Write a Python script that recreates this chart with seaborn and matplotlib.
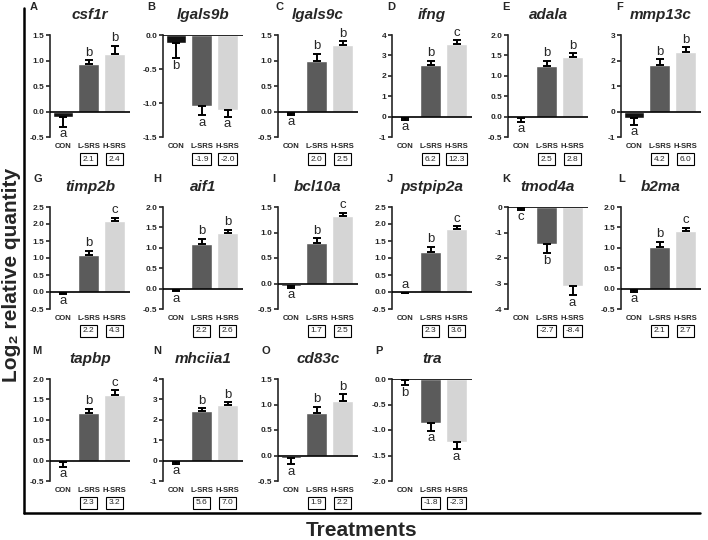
import numpy as np
import pandas as pd
import matplotlib
matplotlib.use("Agg")
import matplotlib.pyplot as plt
import matplotlib.transforms as mtrans
from matplotlib.lines import Line2D
import seaborn as sns

groups = ["CON", "L-SRS", "H-SRS"]
colors = ["#111111", "#5b5b5b", "#d5d5d5"]

genes = ["csf1r", "lgals9b", "lgals9c", "ifng", "adala", "mmp13c",
         "timp2b", "aif1", "bcl10a", "pstpip2a", "tmod4a", "b2ma",
         "tapbp", "mhciia1", "cd83c", "tra"]
panel_ids = list("ABCDEFGHIJKLMNOP")

means = [[-0.10, 0.93, 1.13], [-0.12, -1.05, -1.10], [-0.03, 1.00, 1.31],
         [-0.05, 2.55, 3.55], [-0.03, 1.25, 1.46], [-0.25, 1.83, 2.32],
         [-0.03, 1.10, 2.10], [-0.03, 1.10, 1.36], [-0.05, 0.79, 1.33],
         [-0.02, 1.18, 1.85], [-0.05, -1.45, -3.08], [-0.03, 1.03, 1.40],
         [-0.03, 1.16, 1.62], [-0.05, 2.42, 2.75], [-0.04, 0.83, 1.07],
         [-0.02, -0.86, -1.24]]
errs = [[0.20, 0.08, 0.16], [0.22, 0.13, 0.10], [0.04, 0.13, 0.07],
        [0.12, 0.20, 0.20], [0.10, 0.12, 0.10], [0.27, 0.22, 0.20],
        [0.03, 0.12, 0.08], [0.04, 0.12, 0.08], [0.04, 0.10, 0.06],
        [0.01, 0.15, 0.08], [0.05, 0.37, 0.38], [0.05, 0.12, 0.09],
        [0.12, 0.11, 0.10], [0.12, 0.15, 0.10], [0.13, 0.13, 0.13],
        [0.10, 0.16, 0.14]]
sig = [["a", "b", "b"], ["b", "a", "a"], ["a", "b", "b"], ["a", "b", "c"],
       ["a", "b", "b"], ["a", "b", "b"], ["a", "b", "c"], ["a", "b", "b"],
       ["a", "b", "c"], ["a", "b", "c"], ["c", "b", "a"], ["a", "b", "c"],
       ["a", "b", "c"], ["a", "b", "b"], ["a", "b", "b"], ["b", "a", "a"]]
folds = [["2.1", "2.4"], ["-1.9", "-2.0"], ["2.0", "2.5"], ["6.2", "12.3"],
         ["2.5", "2.8"], ["4.2", "6.0"], ["2.2", "4.3"], ["2.2", "2.6"],
         ["1.7", "2.5"], ["2.3", "3.6"], ["-2.7", "-8.4"], ["2.1", "2.7"],
         ["2.3", "3.2"], ["5.6", "7.0"], ["1.9", "2.2"], ["-1.8", "-2.3"]]
ylims = [(-0.5, 1.5), (-1.5, 0), (-0.5, 1.5), (-1, 4), (-0.5, 2.0), (-1, 3),
         (-0.5, 2.5), (-0.5, 2.0), (-0.5, 1.5), (-0.5, 2.5), (-4, 0), (-0.5, 2.0),
         (-0.5, 2.0), (-1, 4), (-0.5, 1.5), (-2.0, 0)]
ysteps = [0.5, 0.5, 0.5, 1, 0.5, 1, 0.5, 0.5, 0.5, 0.5, 1, 0.5, 0.5, 1, 0.5, 0.5]
letter_up = {("pstpip2a", 0)}

sns.set_style("ticks")
plt.rcParams["font.family"] = ["Liberation Sans", "DejaVu Sans"]
plt.rcParams["axes.unicode_minus"] = False

W, H = 708, 540
fig = plt.figure(figsize=(W / 100, H / 100), dpi=100)

col_x = [50, 163, 278, 392, 508, 621]
row_top = [35, 207, 379]
ax_w, ax_h = 80, 102
id_dx = [-20, -16, -3, -5, -6, -5, -17, -10, -6, -5, -6, -3, -18, -10, -16, -17]

for i, gene in enumerate(genes):
    r, c = divmod(i, 6)
    x0, y0 = col_x[c], row_top[r]
    ax = fig.add_axes([x0 / W, 1 - (y0 + ax_h) / H, ax_w / W, ax_h / H])
    df = pd.DataFrame({"group": groups, "value": means[i]})
    sns.barplot(data=df, x="group", y="value", hue="group", palette=colors,
                legend=False, width=0.8, saturation=1, errorbar=None, ax=ax)
    lo, hi = ylims[i]
    for j, (m, e) in enumerate(zip(means[i], errs[i])):
        yerr = [[0], [e]] if m >= 0 else [[e], [0]]
        ax.errorbar(j, m, yerr=yerr, fmt="none", ecolor="black",
                    elinewidth=1.4, capsize=3, capthick=1.4, zorder=4)
        up = m >= 0 or (gene, j) in letter_up
        yend = m + e if m >= 0 else m - e
        if (gene, j) in letter_up:
            yend = 0
        ax.annotate(sig[i][j], (j, yend), xytext=(0, 1 if up else -1),
                    textcoords="offset points", ha="center",
                    va="bottom" if up else "top", fontsize=9.5)
    ax.axhline(0, color="black", lw=1.2, zorder=5)
    ax.set_xlim(-0.5, 2.6)
    ax.set_ylim(lo, hi)
    ticks = np.arange(lo, hi + ysteps[i] / 2, ysteps[i])
    ax.set_yticks(ticks)
    if ysteps[i] == 1:
        ax.set_yticklabels([f"{t:.0f}" for t in ticks])
    else:
        ax.set_yticklabels([f"{t:.1f}" for t in ticks])
    for lab in ax.get_yticklabels():
        lab.set_fontweight("bold")
    ax.tick_params(axis="y", length=3, width=1.2, labelsize=6, pad=1)
    ax.set_xticks([])
    ax.set_xlabel("")
    ax.set_ylabel("")
    sns.despine(ax=ax, bottom=True)
    ax.spines["left"].set_linewidth(1.2)

    trans = mtrans.blended_transform_factory(ax.transData, ax.transAxes)
    for j, g in enumerate(groups):
        ax.text(j, -9 / ax_h, g, transform=trans, ha="center", va="center",
                fontsize=5.5, fontweight="bold")
    for j, f in enumerate(folds[i]):
        ax.text(j + 1, -22 / ax_h, f, transform=trans, ha="center", va="center",
                fontsize=6,
                bbox=dict(boxstyle="square,pad=0.3", fc="white", ec="black", lw=0.8))

    fig.text((x0 + ax_w / 2) / W, 1 - (y0 - 20) / H, gene, fontsize=11,
             fontweight="bold", style="italic", ha="center", va="center")
    fig.text((x0 + id_dx[i]) / W, 1 - (y0 - 28) / H, panel_ids[i], fontsize=8,
             fontweight="bold", ha="left", va="center")

fig.add_artist(Line2D([24 / W, 24 / W], [1 - 8 / H, 1 - 513 / H], color="black", lw=1.8))
fig.add_artist(Line2D([24 / W, 700 / W], [1 - 513 / H, 1 - 513 / H], color="black", lw=1.8))

fig.text(12 / W, 1 - 275 / H, "Log\u2082 relative quantity", rotation=90,
         fontsize=15, fontweight="bold", ha="center", va="center")
fig.text(362 / W, 1 - 530 / H, "Treatments", fontsize=15, fontweight="bold",
         ha="center", va="center")

fig.savefig("out.png", dpi=100)
